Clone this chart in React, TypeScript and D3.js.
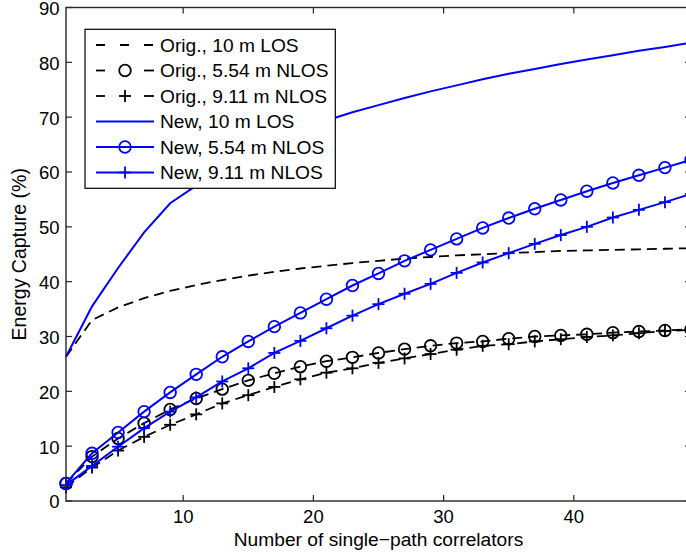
import React from "react";
import * as d3 from "d3";

const xs = [1, 3, 5, 7, 9, 11, 13, 15, 17, 19, 21, 23, 25, 27, 29, 31, 33, 35, 37, 39, 41, 43, 45, 47, 49];

const origLOS10 = [26.3, 33.0, 35.3, 37.0, 38.3, 39.4, 40.3, 41.1, 41.8, 42.4, 42.9, 43.4, 43.8, 44.2, 44.5, 44.8, 45.0, 45.2, 45.4, 45.6, 45.7, 45.8, 45.9, 46.0, 46.1];
const origNLOS554 = [3.2, 8.1, 11.4, 14.2, 16.7, 18.7, 20.4, 22.0, 23.3, 24.5, 25.5, 26.2, 27.0, 27.7, 28.3, 28.8, 29.1, 29.6, 30.0, 30.2, 30.4, 30.7, 30.9, 31.1, 31.3];
const origNLOS911 = [2.5, 6.1, 9.2, 11.7, 13.9, 15.8, 17.8, 19.3, 20.8, 22.2, 23.4, 24.2, 25.2, 26.0, 26.8, 27.6, 28.3, 28.6, 29.1, 29.5, 29.9, 30.2, 30.6, 31.0, 31.2];
const newLOS10 = [26.3, 35.5, 42.5, 49.0, 54.3, 57.5, 60.4, 63.0, 65.3, 67.5, 69.4, 70.9, 72.2, 73.5, 74.7, 75.8, 76.9, 77.9, 78.8, 79.7, 80.5, 81.3, 82.1, 82.8, 83.6];
const newNLOS554 = [3.2, 8.7, 12.5, 16.3, 19.8, 23.1, 26.3, 29.1, 31.8, 34.3, 36.8, 39.3, 41.5, 43.8, 45.8, 47.8, 49.8, 51.6, 53.3, 54.9, 56.5, 58.0, 59.4, 60.8, 62.2];
const newNLOS911 = [2.9, 6.4, 9.9, 13.3, 16.3, 18.9, 21.8, 24.2, 27.0, 29.2, 31.5, 33.8, 35.9, 37.8, 39.6, 41.6, 43.5, 45.2, 46.9, 48.5, 50.0, 51.7, 53.1, 54.5, 56.0];

const xTicks = [10, 20, 30, 40];
const yTicks = [0, 10, 20, 30, 40, 50, 60, 70, 80, 90];

const seriesNames = [
  "Orig., 10 m LOS",
  "Orig., 5.54 m NLOS",
  "Orig., 9.11 m NLOS",
  "New, 10 m LOS",
  "New, 5.54 m NLOS",
  "New, 9.11 m NLOS",
];

type Series = { name: string; values: number[]; color: string; dashed: boolean; marker: "none" | "circle" | "plus" };

const series: Series[] = [
  { name: seriesNames[0], values: origLOS10, color: "#000000", dashed: true, marker: "none" },
  { name: seriesNames[1], values: origNLOS554, color: "#000000", dashed: true, marker: "circle" },
  { name: seriesNames[2], values: origNLOS911, color: "#000000", dashed: true, marker: "plus" },
  { name: seriesNames[3], values: newLOS10, color: "#0000ff", dashed: false, marker: "none" },
  { name: seriesNames[4], values: newNLOS554, color: "#0000ff", dashed: false, marker: "circle" },
  { name: seriesNames[5], values: newNLOS911, color: "#0000ff", dashed: false, marker: "plus" },
];

const W = 686;
const H = 554;
const left = 66;
const right = 691;
const top = 7.5;
const bottom = 501;
const FONT = "'Liberation Sans', Arial, Helvetica, sans-serif";

function Marker({ kind, x, y, color }: { kind: string; x: number; y: number; color: string }) {
  if (kind === "circle") {
    return <circle cx={x} cy={y} r={5.8} fill="none" stroke={color} strokeWidth={1.8} />;
  }
  if (kind === "plus") {
    const s = 6;
    return (
      <g stroke={color} strokeWidth={1.8}>
        <line x1={x - s} x2={x + s} y1={y} y2={y} />
        <line x1={x} x2={x} y1={y - s} y2={y + s} />
      </g>
    );
  }
  return null;
}

export default function App() {
  const x = d3.scaleLinear().domain([1, 49]).range([left, right]);
  const y = d3.scaleLinear().domain([0, 90]).range([bottom, top]);
  const line = d3
    .line<number>()
    .x((_, i) => x(xs[i]))
    .y((d) => y(d));

  const legX = 85;
  const legY = 29.3;
  const legW = 250.3;
  const legH = 159;
  const rowY0 = 45;
  const rowStep = 25.5;

  return (
    <svg width={W} height={H} style={{ position: "absolute", left: 0, top: 0, background: "#fff" }} fontFamily={FONT}>
      <rect x={0} y={0} width={W} height={H} fill="#fff" />
      {series.map((s, si) => (
        <g key={si}>
          <path
            d={line(s.values) || ""}
            fill="none"
            stroke={s.color}
            strokeWidth={s.dashed ? 1.8 : 2}
            strokeDasharray={s.dashed ? "10,6" : undefined}
          />
          {s.marker !== "none" &&
            s.values.map((v, i) => <Marker key={i} kind={s.marker} x={x(xs[i])} y={y(v)} color={s.color} />)}
        </g>
      ))}
      <rect x={left} y={top} width={right - left} height={bottom - top} fill="none" stroke="#262626" strokeWidth={1.4} />
      {xTicks.map((t) => (
        <g key={"xt" + t}>
          <line x1={x(t)} x2={x(t)} y1={bottom} y2={bottom - 6} stroke="#262626" strokeWidth={1.2} />
          <line x1={x(t)} x2={x(t)} y1={top} y2={top + 6} stroke="#262626" strokeWidth={1.2} />
          <text x={x(t)} y={523} textAnchor="middle" fontSize={18.5} fill="#000">
            {t}
          </text>
        </g>
      ))}
      {yTicks.map((t) => (
        <g key={"yt" + t}>
          <line x1={left} x2={left + 6} y1={y(t)} y2={y(t)} stroke="#262626" strokeWidth={1.2} />
          <line x1={right} x2={right - 6} y1={y(t)} y2={y(t)} stroke="#262626" strokeWidth={1.2} />
          <text x={59.5} y={y(t)} dy="0.4em" textAnchor="end" fontSize={18.5} fill="#000">
            {t}
          </text>
        </g>
      ))}
      <text x={(left + right) / 2} y={546} textAnchor="middle" fontSize={19.2} fill="#000">
        Number of single−path correlators
      </text>
      <text transform={`translate(26,${(top + bottom) / 2}) rotate(-90)`} textAnchor="middle" fontSize={19.5} fill="#000">
        Energy Capture (%)
      </text>
      <rect x={legX} y={legY} width={legW} height={legH} fill="#fff" stroke="#000" strokeWidth={1.2} />
      {series.map((s, i) => {
        const yy = rowY0 + i * rowStep;
        return (
          <g key={"leg" + i}>
            {s.dashed ? (
              s.marker === "none" ? (
                <line x1={96} x2={154} y1={yy} y2={yy} stroke={s.color} strokeWidth={1.8} strokeDasharray="9,15" />
              ) : (
                <g>
                  <line x1={96} x2={105} y1={yy} y2={yy} stroke={s.color} strokeWidth={1.8} />
                  <line x1={144} x2={154} y1={yy} y2={yy} stroke={s.color} strokeWidth={1.8} />
                </g>
              )
            ) : (
              <line x1={96} x2={154} y1={yy} y2={yy} stroke={s.color} strokeWidth={2} />
            )}
            {s.marker !== "none" && <Marker kind={s.marker} x={125} y={yy} color={s.color} />}
            <text x={160} y={yy} dy="0.35em" fontSize={19.2} fill="#000">
              {s.name}
            </text>
          </g>
        );
      })}
    </svg>
  );
}
